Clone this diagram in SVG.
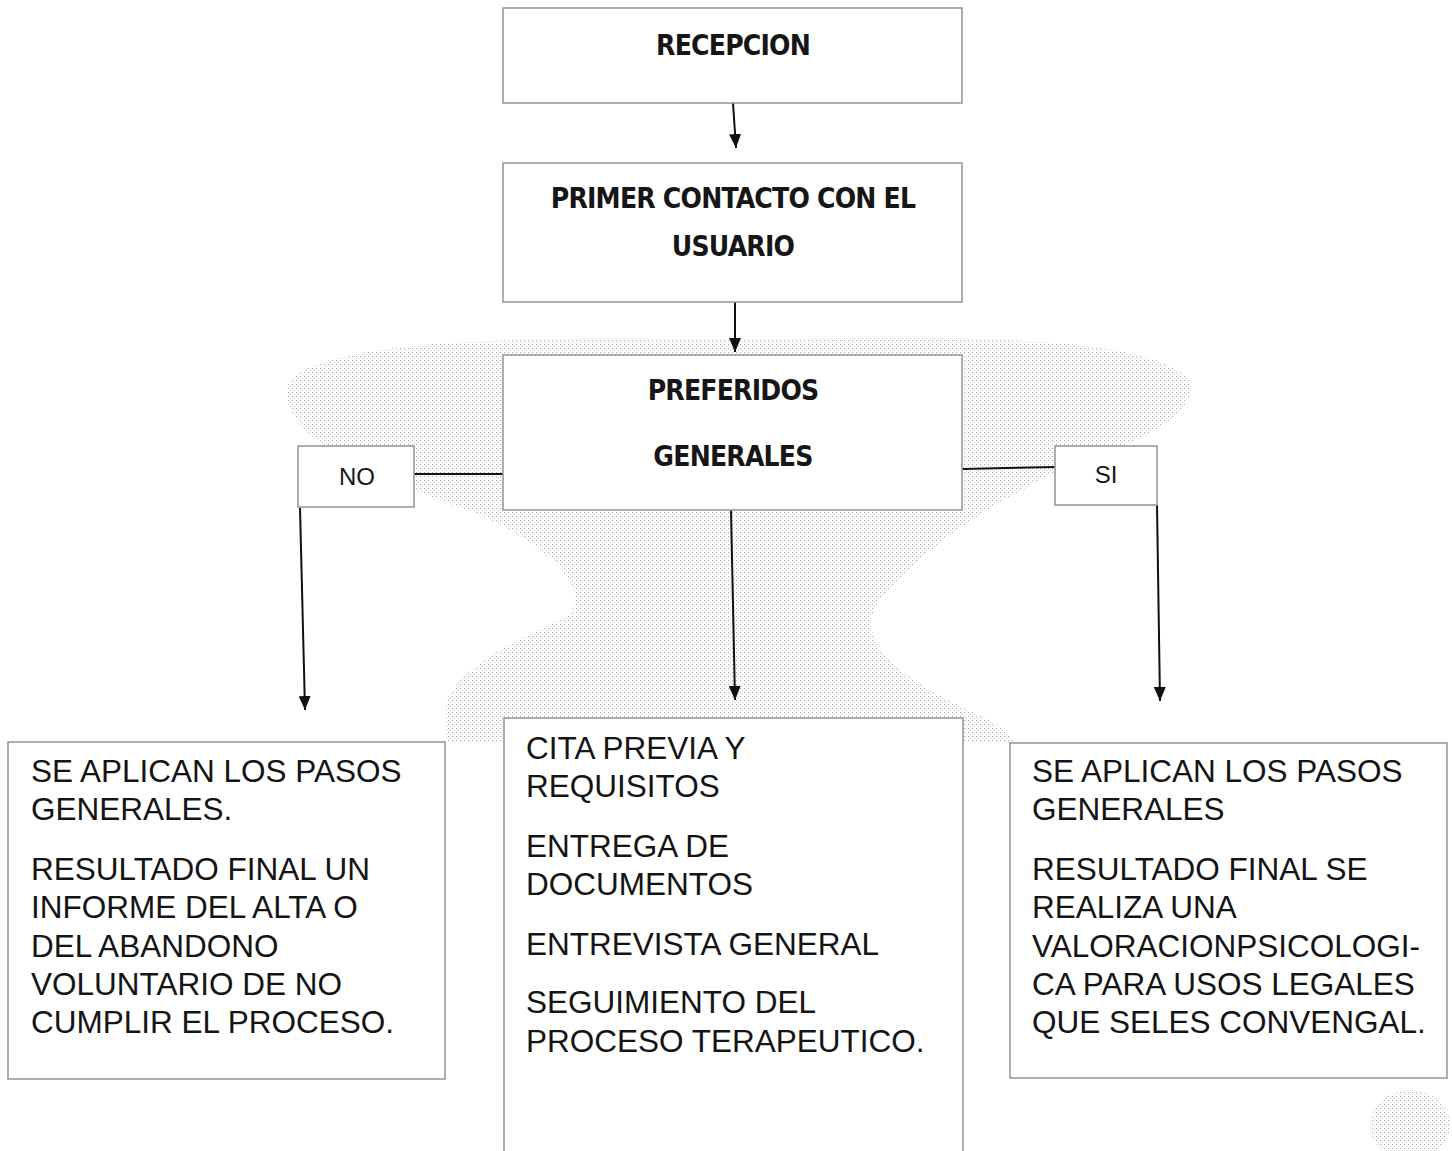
<svg xmlns="http://www.w3.org/2000/svg" width="1452" height="1151" viewBox="0 0 1452 1151">
<defs>
<pattern id="dots" width="4" height="4" patternUnits="userSpaceOnUse">
<rect x="0" y="0" width="1.2" height="1.2" fill="#a8a8a8"/>
<rect x="2" y="2" width="1" height="1" fill="#c4c4c4"/>
</pattern>
<marker id="ah" markerWidth="14" markerHeight="12" refX="14" refY="6" orient="auto" markerUnits="userSpaceOnUse" viewBox="0 0 14 12">
<path d="M0,0 L14,6 L0,12 Z" fill="#111"/>
</marker>
</defs>
<style>
.box{fill:#fff;stroke:#9a9a9a;stroke-width:1.6}
.hd{font-family:"DejaVu Sans Condensed","DejaVu Sans","Liberation Sans",sans-serif;font-weight:bold;font-size:28px;letter-spacing:-0.8px;fill:#161616;text-anchor:middle}
.lb{font-family:"Liberation Sans",Arial,sans-serif;font-size:24px;fill:#161616;text-anchor:middle}
.tx{font-family:"Liberation Sans",Arial,sans-serif;font-size:31.5px;fill:#141414}
.ln{stroke:#111;stroke-width:2;fill:none}
</style>
<rect width="1452" height="1151" fill="#fff"/>
<g id="shading" opacity="0.9">
<path d="M290,380 C330,340 520,335 735,340 C960,335 1150,335 1190,380 C1200,420 1120,450 1060,470 C1000,500 930,540 880,600 C850,640 900,680 990,720 C1050,760 1060,830 1010,850 L1010,742 L963,742 L963,718 L504,718 L504,742 L446,742 L446,720 C440,690 470,660 560,620 C600,600 560,540 440,500 C360,470 270,430 290,380 Z" fill="url(#dots)"/>
<ellipse cx="1410" cy="1125" rx="40" ry="35" fill="url(#dots)"/>
</g>
<g id="connectors">
<line class="ln" x1="733" y1="103" x2="736" y2="148" marker-end="url(#ah)"/>
<line class="ln" x1="735" y1="302" x2="735" y2="352" marker-end="url(#ah)"/>
<line class="ln" x1="414" y1="474" x2="503" y2="474"/>
<line class="ln" x1="962" y1="469" x2="1055" y2="467"/>
<line class="ln" x1="300" y1="508" x2="305" y2="710" marker-end="url(#ah)"/>
<line class="ln" x1="731" y1="510" x2="735" y2="700" marker-end="url(#ah)"/>
<line class="ln" x1="1157" y1="505" x2="1160" y2="701" marker-end="url(#ah)"/>
</g>
<g id="recepcion">
<rect class="box" x="503" y="8" width="459" height="95"/>
<text class="hd" x="733" y="55">RECEPCION</text>
</g>
<g id="primer-contacto">
<rect class="box" x="503" y="163" width="459" height="139"/>
<text class="hd" x="733" y="208">PRIMER CONTACTO CON EL</text>
<text class="hd" x="733" y="256">USUARIO</text>
</g>
<g id="preferidos">
<rect class="box" x="503" y="355" width="459" height="155"/>
<text class="hd" x="733" y="400">PREFERIDOS</text>
<text class="hd" x="733" y="466">GENERALES</text>
</g>
<g id="no">
<rect class="box" x="298" y="446" width="116" height="61"/>
<text class="lb" x="357" y="485">NO</text>
</g>
<g id="si">
<rect class="box" x="1055" y="446" width="102" height="59"/>
<text class="lb" x="1106" y="483">SI</text>
</g>
<g id="resultado-no">
<rect class="box" x="8" y="742" width="437" height="337"/>
<text class="tx" x="31" y="782">SE APLICAN LOS PASOS</text>
<text class="tx" x="31" y="820">GENERALES.</text>
<text class="tx" x="31" y="880">RESULTADO FINAL UN</text>
<text class="tx" x="31" y="918">INFORME DEL ALTA O</text>
<text class="tx" x="31" y="957">DEL ABANDONO</text>
<text class="tx" x="31" y="995">VOLUNTARIO DE NO</text>
<text class="tx" x="31" y="1033">CUMPLIR EL PROCESO.</text>
</g>
<g id="pasos-generales">
<rect class="box" x="504" y="718" width="459" height="450"/>
<text class="tx" x="526" y="759">CITA PREVIA Y</text>
<text class="tx" x="526" y="797">REQUISITOS</text>
<text class="tx" x="526" y="857">ENTREGA DE</text>
<text class="tx" x="526" y="895">DOCUMENTOS</text>
<text class="tx" x="526" y="955">ENTREVISTA GENERAL</text>
<text class="tx" x="526" y="1013">SEGUIMIENTO DEL</text>
<text class="tx" x="526" y="1052">PROCESO TERAPEUTICO.</text>
</g>
<g id="resultado-si">
<rect class="box" x="1010" y="743" width="437" height="335"/>
<text class="tx" x="1032" y="782">SE APLICAN LOS PASOS</text>
<text class="tx" x="1032" y="820">GENERALES</text>
<text class="tx" x="1032" y="880">RESULTADO FINAL SE</text>
<text class="tx" x="1032" y="918">REALIZA UNA</text>
<text class="tx" x="1032" y="957">VALORACIONPSICOLOGI-</text>
<text class="tx" x="1032" y="995">CA PARA USOS LEGALES</text>
<text class="tx" x="1032" y="1033">QUE SELES CONVENGAL.</text>
</g>
</svg>
